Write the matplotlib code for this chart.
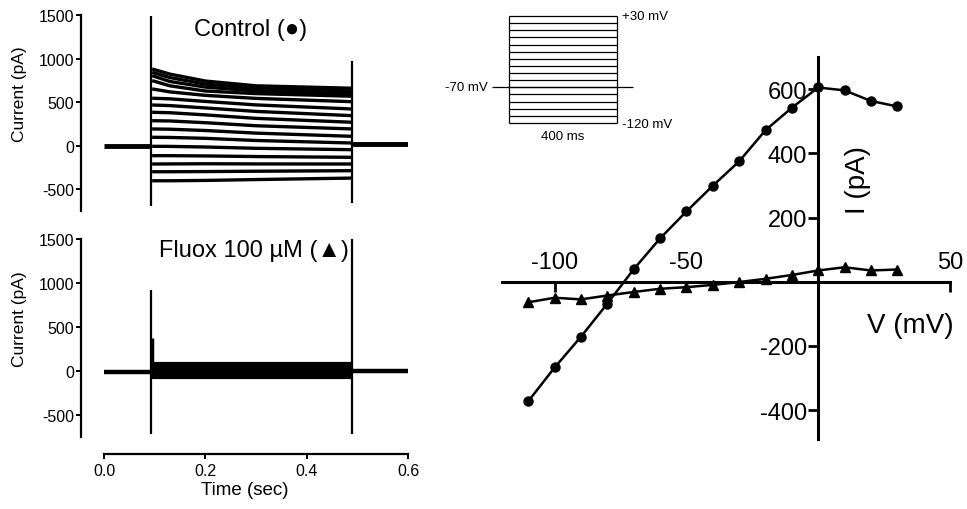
"""
Whole-cell currents (control vs fluoxetine) and the I-V relation,
redrawn from the figure.
"""

import matplotlib
matplotlib.use("Agg")
import matplotlib.pyplot as plt

plt.rcParams["font.family"] = ["Liberation Sans", "DejaVu Sans"]
plt.rcParams["axes.unicode_minus"] = False

# ── I-V data ──────────────────────────────────────────────────────────────────
iv_voltage = [-110, -100, -90, -80, -70, -60, -50, -40, -30, -20, -10, 0, 10, 20, 30]
iv_control = [-372, -267, -171, -68, 39, 135, 219, 299, 375, 472, 542, 605, 596, 563, 546]
iv_fluox = [-64, -50, -55, -43, -32, -22, -17, -10, -1, 9, 21, 35, 45, 35, 38]

iv_xticks = [-100, -50, 0, 50]
iv_xticklabels = ["-100", "-50", "", "50"]
iv_yticks = [-400, -200, 200, 400, 600]

# ── Control traces: level (pA) at a few time points, one row per step ────────
pulse_on, pulse_off = 0.093, 0.49
ctrl_knot_t = [0.095, 0.13, 0.2, 0.3, 0.49]
ctrl_traces = [
    [-404, -404, -400, -390, -373],
    [-300, -300, -298, -294, -288],
    [-211, -210, -208, -210, -211],
    [-115, -115, -118, -125, -134],
    [-7, -8, -15, -30, -46],
    [97, 95, 85, 60, 31],
    [193, 190, 175, 145, 108],
    [288, 285, 265, 230, 193],
    [385, 380, 355, 315, 270],
    [469, 462, 435, 395, 346],
    [547, 540, 510, 470, 423],
    [654, 620, 580, 545, 507],
    [750, 690, 630, 600, 570],
    [807, 740, 675, 630, 600],
    [846, 785, 710, 660, 631],
    [884, 825, 745, 690, 662],
]
ctrl_pre_level = 0
ctrl_post_level = 20
ctrl_spike_t = [0.093, 0.49]
ctrl_spike_lo = [-690, -665]
ctrl_spike_hi = [1500, 975]

# ── Fluoxetine traces: nearly flat band ──────────────────────────────────────
fluox_levels = [-70, -62, -52, -45, -36, -28, -20, -12, -4, 5, 15, 28, 40, 52, 66, 90]
fluox_pre_level = -10
fluox_post_level = -5
fluox_spike_t = [0.093, 0.49]
fluox_spike_lo = [-720, -720]
fluox_spike_hi = [920, 1500]
fluox_onset_hump = [20, 370]

# ── Voltage protocol inset ────────────────────────────────────────────────────
step_voltages = [-120, -110, -100, -90, -80, -70, -60, -50, -40, -30,
                 -20, -10, 0, 10, 20, 30]
step_ms = 400
holding_mv = -70

fig = plt.figure(figsize=(9.67, 5.10), dpi=100)
W, H = 967.0, 510.0


def px_axes(x0, y0, x1, y1):
    # axes from pixel box (top-left origin)
    return fig.add_axes([x0 / W, 1 - y1 / H, (x1 - x0) / W, (y1 - y0) / H])


def style_trace_axes(ax):
    ax.set_xlim(-0.0454, 0.6)
    ax.set_ylim(-750, 1500)
    for s in ("top", "right", "bottom"):
        ax.spines[s].set_visible(False)
    ax.spines["left"].set_linewidth(1.6)
    ax.set_yticks([-500, 0, 500, 1000, 1500])
    ax.tick_params(axis="y", length=3.5, width=1.4, pad=1.5, labelsize=11.5)
    ax.set_ylabel("Current (pA)", fontsize=12.5)
    ax.yaxis.set_label_coords(-0.165, 0.6)
    ax.patch.set_alpha(0)


# ── Top trace panel: control ─────────────────────────────────────────────────
ax1 = px_axes(81, 16.5, 408, 211.8)
style_trace_axes(ax1)
ax1.set_xticks([])
ax1.plot([0, pulse_on], [ctrl_pre_level] * 2, color="k", lw=3.5, solid_capstyle="butt")
ax1.plot([pulse_off, 0.6], [ctrl_post_level] * 2, color="k", lw=3.5, solid_capstyle="butt")
for row in ctrl_traces:
    ax1.plot(ctrl_knot_t, row, color="k", lw=2.4, solid_capstyle="butt")
ax1.vlines(ctrl_spike_t, ctrl_spike_lo, ctrl_spike_hi, color="k", lw=1.6)
ax1.text(0.29, 1346, "Control (\u25cf)", fontsize=17, ha="center", va="center")

# ── Bottom trace panel: fluoxetine ───────────────────────────────────────────
ax2 = px_axes(81, 240, 408, 437.5)
style_trace_axes(ax2)
ax2.spines["bottom"].set_visible(True)
ax2.spines["bottom"].set_position(("outward", 12.6))
ax2.spines["bottom"].set_bounds(0, 0.6)
ax2.spines["bottom"].set_linewidth(1.6)
ax2.set_xticks([0.0, 0.2, 0.4, 0.6])
ax2.set_xticklabels(["0.0", "0.2", "0.4", "0.6"])
ax2.tick_params(axis="x", length=3.5, width=1.4, pad=3, labelsize=11.5)
ax2.set_xlabel("Time (sec)", fontsize=13.5, labelpad=2)
ax2.plot([0, pulse_on], [fluox_pre_level] * 2, color="k", lw=3.2, solid_capstyle="butt")
ax2.plot([pulse_off, 0.6], [fluox_post_level] * 2, color="k", lw=3.2, solid_capstyle="butt")
for lev in fluox_levels:
    ax2.plot([pulse_on, pulse_off], [lev, lev], color="k", lw=2.3, solid_capstyle="butt")
ax2.vlines(fluox_spike_t, fluox_spike_lo, fluox_spike_hi, color="k", lw=1.6)
ax2.vlines([pulse_on + 0.002], fluox_onset_hump[0], fluox_onset_hump[1], color="k", lw=2.5)
ax2.text(0.296, 1380, "Fluox 100 \u00b5M (\u25b2)", fontsize=17, ha="center", va="center")

# ── I-V panel ─────────────────────────────────────────────────────────────────
ax3 = px_axes(502, 58, 950, 440)
ax3.set_xlim(-120, 50)
ax3.set_ylim(-490, 700)
ax3.spines["top"].set_visible(False)
ax3.spines["right"].set_visible(False)
ax3.spines["left"].set_position(("data", 0))
ax3.spines["bottom"].set_position(("data", 0))
ax3.spines["left"].set_linewidth(2.2)
ax3.spines["bottom"].set_linewidth(2.2)
ax3.patch.set_alpha(0)

ax3.plot(iv_voltage, iv_control, color="k", lw=1.8, marker="o", ms=6.5, zorder=3)
ax3.plot(iv_voltage, iv_fluox, color="k", lw=1.8, marker="^", ms=7, zorder=3)

ax3.set_xticks(iv_xticks)
ax3.set_xticklabels([])
ax3.tick_params(axis="x", direction="out", length=7, width=2)
for v, lab in zip(iv_xticks, iv_xticklabels):
    ax3.text(v, 28, lab, fontsize=17, ha="center", va="bottom")

ax3.set_yticks(iv_yticks)
ax3.set_yticklabels([str(v) for v in iv_yticks])
ax3.tick_params(axis="y", direction="out", length=7, width=2, pad=1, labelsize=17)

ax3.text(15, 320, "I (pA)", fontsize=20, rotation=90, ha="center", va="center")
ax3.text(35, -135, "V (mV)", fontsize=20, ha="center", va="center")

# ── Protocol inset ────────────────────────────────────────────────────────────
# box 509..617 px wide for 0..400 ms; holding line runs 492..633 px
ms_per_px = step_ms / 108.0
ax4 = px_axes(492, 17, 633, 124)
ax4.set_xlim(-17 * ms_per_px, step_ms + 16 * ms_per_px)
ax4.set_ylim(min(step_voltages), max(step_voltages))
ax4.axis("off")
ax4.hlines(step_voltages, 0, step_ms, color="k", lw=0.9, clip_on=False)
ax4.vlines([0, step_ms], min(step_voltages), max(step_voltages), color="k", lw=0.9, clip_on=False)
ax4.hlines([holding_mv], -17 * ms_per_px, step_ms + 16 * ms_per_px, color="k", lw=0.9,
           clip_on=False)
ax4.text(-21 * ms_per_px, holding_mv, "-70 mV", fontsize=9.5, ha="right", va="center")
ax4.text(step_ms + 5 * ms_per_px, 30, "+30 mV", fontsize=9.5, ha="left", va="center")
ax4.text(step_ms + 5 * ms_per_px, -122, "-120 mV", fontsize=9.5, ha="left", va="center")
ax4.text(step_ms / 2, -138, "400 ms", fontsize=9.5, ha="center", va="center")

fig.savefig("out.png", dpi=100)
